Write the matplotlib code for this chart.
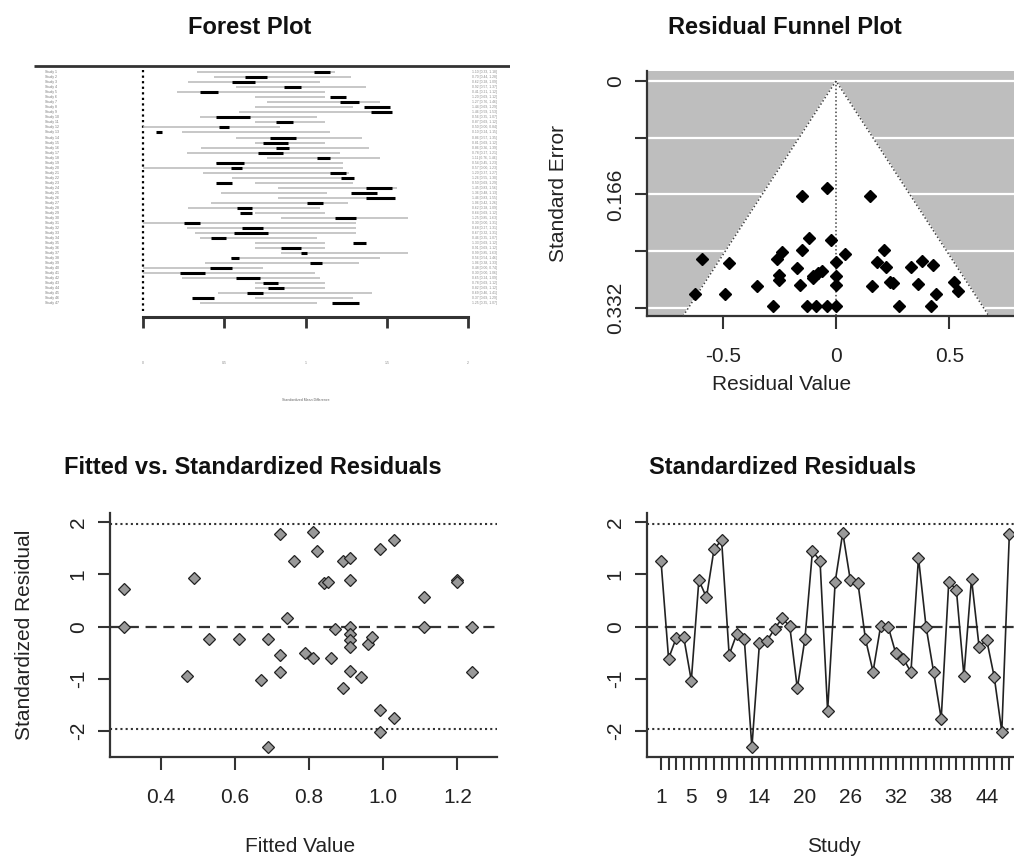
import matplotlib
matplotlib.use("Agg")
import matplotlib.pyplot as plt
import numpy as np

plt.rcParams["font.family"] = ["Liberation Sans", "DejaVu Sans"]
plt.rcParams["axes.unicode_minus"] = False

# ── forest plot data (CI = grey line, box = black segment) ──────────────────
study_names = [f"Study {i}" for i in range(1, 48)]
ci_lo = [0.33, 0.44, 0.28, 0.57, 0.21, 0.69, 0.76, 0.69, 0.59, 0.35, 0.69, 0.00, 0.24, 0.57, 0.69, 0.36,
         0.27, 0.76, 0.45, 0.00, 0.37, 0.55, 0.69, 0.83, 0.48, 0.83, 0.42, 0.28, 0.69, 0.85, 0.00, 0.27,
         0.32, 0.35, 0.69, 0.69, 0.85, 0.54, 0.38, 0.00, 0.00, 0.24, 0.69, 0.69, 0.46, 0.69, 0.35]
ci_hi = [1.18, 1.28, 1.09, 1.37, 1.12, 1.12, 1.46, 1.29, 1.53, 1.07, 1.12, 0.84, 1.15, 1.35, 1.12, 1.39,
         1.21, 1.46, 1.23, 1.23, 1.27, 1.30, 1.29, 1.56, 1.13, 1.55, 1.26, 1.09, 1.12, 1.63, 1.31, 1.31,
         1.31, 1.07, 1.12, 1.12, 1.63, 1.46, 1.33, 0.74, 1.06, 1.09, 1.12, 1.12, 1.41, 1.29, 1.07]
box_lo = [1.05, 0.63, 0.55, 0.87, 0.35, 1.15, 1.21, 1.36, 1.40, 0.45, 0.82, 0.47, 0.08, 0.78, 0.74, 0.82,
          0.71, 1.07, 0.45, 0.54, 1.15, 1.22, 0.45, 1.37, 1.28, 1.37, 1.01, 0.58, 0.60, 1.18, 0.25, 0.61,
          0.56, 0.42, 1.29, 0.85, 0.97, 0.54, 1.03, 0.41, 0.23, 0.57, 0.74, 0.77, 0.64, 0.30, 1.16]
box_hi = [1.15, 0.76, 0.69, 0.97, 0.46, 1.25, 1.33, 1.52, 1.53, 0.66, 0.92, 0.53, 0.12, 0.94, 0.89, 0.90,
          0.86, 1.15, 0.62, 0.61, 1.25, 1.30, 0.55, 1.53, 1.44, 1.55, 1.11, 0.67, 0.67, 1.31, 0.35, 0.74,
          0.77, 0.51, 1.37, 0.97, 1.01, 0.59, 1.10, 0.55, 0.38, 0.72, 0.83, 0.87, 0.74, 0.44, 1.33]
forest_ticks = [0, 0.5, 1, 1.5, 2]
forest_ticklabels = ["0", "0.5", "1", "1.5", "2"]

# ── funnel plot data ────────────────────────────────────────────────────────
funnel_resid = [-0.04, -0.15, 0.15, -0.12, -0.02, -0.15, 0.04, 0.21, -0.24, -0.26, -0.59, -0.47, 0.00,
                0.18, 0.22, 0.33, 0.38, 0.43, -0.17, -0.25, -0.25, -0.06, -0.08, -0.10, -0.10, 0.00,
                0.00, -0.16, -0.35, 0.16, 0.24, 0.25, 0.36, 0.52, 0.54, 0.44, -0.62, -0.49, -0.28,
                -0.13, -0.09, -0.04, 0.00, 0.28, 0.42]
funnel_se = [0.156, 0.169, 0.169, 0.230, 0.233, 0.248, 0.253, 0.248, 0.251, 0.261, 0.261, 0.267, 0.265,
             0.265, 0.272, 0.272, 0.263, 0.270, 0.274, 0.284, 0.292, 0.279, 0.281, 0.286, 0.288, 0.286,
             0.299, 0.299, 0.300, 0.300, 0.295, 0.296, 0.298, 0.295, 0.307, 0.312, 0.312, 0.312, 0.329,
             0.329, 0.330, 0.329, 0.329, 0.329, 0.329]
se_ticks = [0, 0.083, 0.166, 0.249, 0.332]
se_ticklabels = ["0", "", "0.166", "", "0.332"]

# ── fitted vs standardized residuals ────────────────────────────────────────
fitted = [0.30, 0.30, 0.49, 0.47, 0.53, 0.61, 0.67, 0.69, 0.69, 0.72, 0.72, 0.72, 0.74, 0.76, 0.79,
          0.81, 0.81, 0.82, 0.84, 0.85, 0.86, 0.87, 0.89, 0.89, 0.91, 0.91, 0.91, 0.91, 0.91, 0.91,
          0.91, 0.94, 0.96, 0.97, 0.99, 0.99, 0.99, 1.03, 1.03, 1.11, 1.11, 1.20, 1.20, 1.24, 1.24]
fitted_resid = [0.72, 0.00, 0.93, -0.94, -0.24, -0.24, -1.02, -0.24, -2.31, 1.77, -0.54, -0.87, 0.16,
                1.26, -0.51, 1.81, -0.60, 1.45, 0.83, 0.86, -0.60, -0.05, -1.18, 1.26, 1.32, 0.89,
                0.00, -0.14, -0.26, -0.38, -0.84, -0.97, -0.33, -0.20, 1.48, -1.60, -2.01, 1.66,
                -1.75, 0.56, 0.00, 0.89, 0.86, 0.00, -0.87]

# ── standardized residuals by study ─────────────────────────────────────────
study_resid = [1.26, -0.61, -0.22, -0.20, -1.03, 0.89, 0.56, 1.48, 1.66, -0.54, -0.14, -0.24, -2.31,
               -0.32, -0.27, -0.04, 0.16, 0.01, -1.18, -0.24, 1.45, 1.26, -1.61, 0.86, 1.80, 0.89,
               0.84, -0.24, -0.86, 0.01, 0.00, -0.51, -0.61, -0.87, 1.32, 0.00, -0.87, -1.76, 0.86,
               0.71, -0.94, 0.92, -0.38, -0.25, -0.96, -2.01, 1.78]
study_ticklabel_show = [1, 5, 9, 14, 20, 26, 32, 38, 44]

W, H = 1014, 858
fig = plt.figure(figsize=(W / 100, H / 100), dpi=100)
AX = "#333333"
FS = 15


def px_axes(l, t, r, b):
    return fig.add_axes([l / W, 1 - b / H, (r - l) / W, (b - t) / H])


def r_style(ax):
    for s in ["top", "right"]:
        ax.spines[s].set_visible(False)
    for s in ["left", "bottom"]:
        ax.spines[s].set_color(AX)
        ax.spines[s].set_linewidth(1.6)
    ax.tick_params(length=9, width=1.5, color=AX, labelsize=FS, labelcolor="#222222")
    ax.tick_params(axis="x", pad=13)
    ax.tick_params(axis="y", pad=7)
    for lab in ax.get_yticklabels():
        lab.set_rotation(90)
        lab.set_va("center")


# ── Forest Plot ─────────────────────────────────────────────────────────────
ax = px_axes(30, 55, 510, 415)
rows = np.arange(1, len(study_names) + 1)
ax.set_xlim(-0.695, 2.258)
ax.set_ylim(69.33, -2.45)
ax.hlines(-0.26, -0.67, 2.26, color=AX, lw=2)
ax.vlines(0, 0.5, 48.5, color="black", lw=1.6, linestyles=(0, (1, 1.5)))
ax.hlines(rows, ci_lo, ci_hi, color="#b8b8b8", lw=1.1)
ax.hlines(rows, box_lo, box_hi, color="black", lw=2.2)
for r, name, lo, hi, blo, bhi in zip(rows, study_names, ci_lo, ci_hi, box_lo, box_hi):
    ax.text(-0.603, r, name, fontsize=2.5, color="#777777", va="center", ha="left")
    est = (blo + bhi) / 2
    ax.text(2.025, r, f"{est:.2f} [{lo:.2f}, {hi:.2f}]", fontsize=2.4, color="#888888",
            va="center", ha="left")
for s in ["top", "right", "left"]:
    ax.spines[s].set_visible(False)
ax.spines["bottom"].set_position(("data", 49.8))
ax.spines["bottom"].set_bounds(0, 2)
ax.spines["bottom"].set_linewidth(2.2)
ax.spines["bottom"].set_color(AX)
ax.set_xticks(forest_ticks)
ax.set_xticklabels(forest_ticklabels)
ax.set_yticks([])
ax.tick_params(axis="x", length=8, width=2, color=AX, labelsize=2.5, labelcolor="#888888", pad=24)
ax.text(1.0, 66.3, "Standardized Mean Difference", fontsize=2.5, color="#666666",
        ha="center", va="center")

# ── Residual Funnel Plot ────────────────────────────────────────────────────
ax = px_axes(647, 71, 1025, 316)
ax.set_facecolor("#bebebe")
ax.set_xlim(-0.834, 0.834)
se_bottom, se_top = 0.3442, -0.01465
ax.set_ylim(se_bottom, se_top)
for t in se_ticks:
    ax.axhline(t, color="white", lw=1.6, zorder=1)
ax.fill([0, -1.96 * se_bottom, 1.96 * se_bottom], [0, se_bottom, se_bottom], color="white", zorder=2)
ax.plot([-1.96 * se_bottom, 0, 1.96 * se_bottom], [se_bottom, 0, se_bottom], color="#444444",
        lw=1.1, ls=(0, (1, 1.5)), zorder=3)
ax.vlines(0, 0, se_bottom, color="#444444", lw=1.1, linestyles=(0, (1, 1.5)), zorder=3)
ax.plot(funnel_resid, funnel_se, ls="none", marker="D", ms=6.5, color="black", zorder=4)
ax.set_xticks([-0.5, 0, 0.5])
ax.set_xticklabels(["-0.5", "0", "0.5"])
ax.set_yticks(se_ticks)
ax.set_yticklabels(se_ticklabels)
r_style(ax)
fig.text(782 / W, 1 - 385 / H, "Residual Value", fontsize=FS, ha="center", va="center", color="#222222")
fig.text(558 / W, 1 - 193 / H, "Standard Error", fontsize=FS, ha="center", va="center",
         rotation=90, color="#222222")

# ── Fitted vs. Standardized Residuals ───────────────────────────────────────
ax = px_axes(110, 513, 497, 757)
ax.set_xlim(0.2623, 1.307)
ax.set_ylim(-2.494, 2.176)
ax.axhline(0, color="#333333", lw=1.6, ls=(0, (5, 3)))
for v in (-1.96, 1.96):
    ax.axhline(v, color="#333333", lw=1.5, ls=(0, (1, 1.5)))
ax.plot(fitted, fitted_resid, ls="none", marker="D", ms=6.5, mfc="#999999", mec="#222222", mew=0.9)
ax.set_xticks([0.4, 0.6, 0.8, 1.0, 1.2])
ax.set_xticklabels(["0.4", "0.6", "0.8", "1.0", "1.2"])
ax.set_yticks([-2, -1, 0, 1, 2])
r_style(ax)
fig.text(300 / W, 1 - 847 / H, "Fitted Value", fontsize=FS, ha="center", va="center", color="#222222")
fig.text(25 / W, 1 - 635 / H, "Standardized Residual", fontsize=FS, ha="center", va="center",
         rotation=90, color="#222222")

# ── Standardized Residuals by study ─────────────────────────────────────────
ax = px_axes(647, 513, 1023, 757)
studies = np.arange(1, len(study_resid) + 1)
ax.set_xlim(-0.849, 48.8)
ax.set_ylim(-2.494, 2.176)
ax.axhline(0, color="#333333", lw=1.6, ls=(0, (5, 3)))
for v in (-1.96, 1.96):
    ax.axhline(v, color="#333333", lw=1.5, ls=(0, (1, 1.5)))
ax.plot(studies, study_resid, color="#222222", lw=1.2, marker="D", ms=6.5, mfc="#999999",
        mec="#222222", mew=0.9)
ax.set_xticks(studies)
ax.set_xticklabels([str(s) if s in study_ticklabel_show else "" for s in studies])
ax.set_yticks([-2, -1, 0, 1, 2])
r_style(ax)
fig.text(834 / W, 1 - 847 / H, "Study", fontsize=FS, ha="center", va="center", color="#222222")

# ── titles ──────────────────────────────────────────────────────────────────
for x, y, t in [(250, 27, "Forest Plot"), (785, 27, "Residual Funnel Plot"),
                (253, 468, "Fitted vs. Standardized Residuals"), (783, 468, "Standardized Residuals")]:
    fig.text(x / W, 1 - y / H, t, fontsize=17, fontweight="bold", ha="center", va="center",
             color="#111111")

fig.savefig("out.png", dpi=100)
